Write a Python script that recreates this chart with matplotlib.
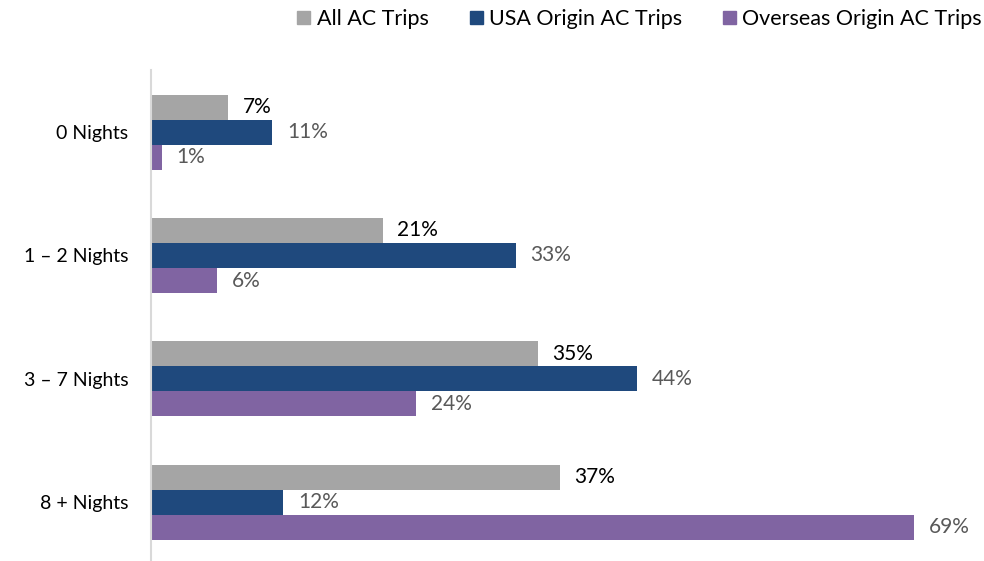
import matplotlib
matplotlib.use('Agg')
import matplotlib.pyplot as plt
from matplotlib.patches import Patch
import numpy as np

plt.rcParams['font.family'] = ['Lato', 'DejaVu Sans']

categories = ['0 Nights', '1 – 2 Nights', '3 – 7 Nights', '8 + Nights']
series_names = ['All AC Trips', 'USA Origin AC Trips', 'Overseas Origin AC Trips']
all_trips = [7, 21, 35, 37]
usa_trips = [11, 33, 44, 12]
overseas_trips = [1, 6, 24, 69]

colors = ['#A5A5A5', '#1F497D', '#8064A2']
label_colors = ['#000000', '#595959', '#595959']

fig = plt.figure(figsize=(9.84, 5.61), dpi=100)
# axes placed in pixel terms: left 150.5, top 70.5, ~493 px tall
ax = fig.add_axes([150.5 / 984, -2.8 / 561, 830 / 984, 493.3 / 561])

y = np.arange(len(categories))
h = 0.203
for i, vals in enumerate([all_trips, usa_trips, overseas_trips]):
    pos = y + (i - 1) * h
    ax.barh(pos, vals, height=h, color=colors[i], label=series_names[i])
    for p, v in zip(pos, vals):
        ax.annotate(f'{v}%', xy=(v, p), xytext=(10.5, 0), textcoords='offset points',
                    va='center', ha='left', fontsize=15, color=label_colors[i])

ax.set_xlim(0, 75)
ax.set_ylim(3.5, -0.5)
ax.set_yticks(y)
ax.set_yticklabels(categories, fontsize=14)
ax.tick_params(axis='y', length=0, pad=16)
ax.set_xticks([])
for s in ['top', 'right', 'bottom']:
    ax.spines[s].set_visible(False)
ax.spines['left'].set_color('#D9D9D9')
ax.spines['left'].set_linewidth(1.5)

handles = [Patch(color=c) for c in colors]
fig.legend(handles, series_names, loc='center right', bbox_to_anchor=(0.998, 1 - 19 / 561),
           ncol=3, frameon=False, fontsize=15.5, handlelength=0.6, handleheight=0.6,
           handletextpad=0.3, columnspacing=1.9, borderaxespad=0, borderpad=0)

fig.savefig('out.png', dpi=100)
